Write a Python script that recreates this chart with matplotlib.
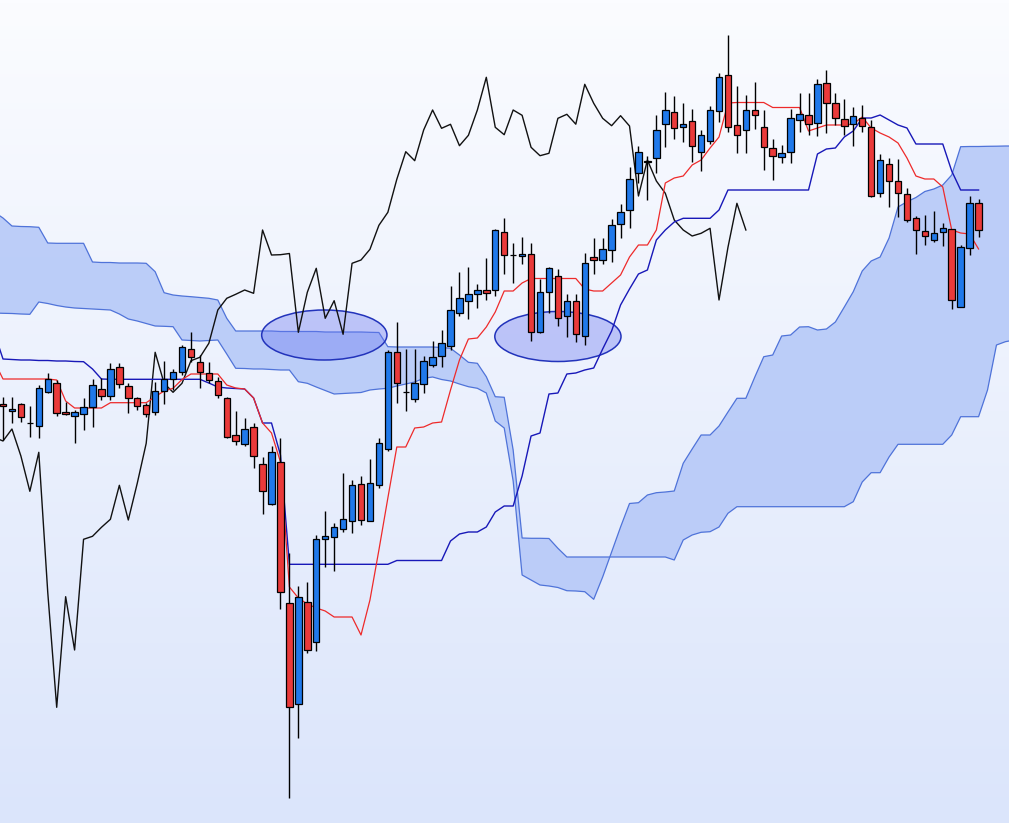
import numpy as np
import matplotlib
matplotlib.use("Agg")
import matplotlib.pyplot as plt
from matplotlib.patches import Ellipse

# ---------------------------------------------------------------
# Data (price levels; the price scale is drawn
# inverted, so a smaller number sits higher on the chart)
# ---------------------------------------------------------------
open_ = [404.3, 410.5, 404, 422.5, 425.7, 391.7, 382.7, 411.7, 416, 414.3,
         406.7, 388.7, 396, 367.3, 385.7, 398.3, 405.3, 412, 391.3, 379,
         372.3, 349.3, 362.3, 373.3, 380.7, 398.3, 435.3, 444.3, 427.3, 464.3,
         504, 462.3, 603.3, 704.3, 601.7, 642.3, 539.3, 536.7, 529.3, 521.3,
         484.3, 521.3, 485.3, 449, 352.3, 392.3, 399.3, 384, 365.3, 356,
         346, 313.3, 301, 294, 290.3, 290, 232.3, 254.7, 256, 254.3,
         332.3, 291.7, 276, 316, 301.3, 335.7, 256.7, 260, 250, 224.3,
         210, 172.7, 162.3, 158.3, 124.3, 112.3, 126.7, 121, 151.7, 140.7,
         110.7, 75, 125.3, 130.3, 110, 127.3, 148.3, 156.7, 151.7, 120,
         114.5, 123.3, 83.3, 103.3, 119.3, 124, 118.3, 126.7, 193.3, 164.3,
         181, 194.3, 218.3, 230.7, 240, 232.3, 229.3, 306.7, 248.3, 203.3]
high = [397, 397, 403, 406, 385, 373.3, 380, 401.7, 410, 398.3,
        379.3, 378.3, 362.7, 363.3, 383.3, 396.7, 403, 382, 360.7, 369,
        345, 331.7, 355, 362.3, 376.7, 396.7, 411, 418.3, 423.3, 456.7,
        446, 438.3, 553.3, 586, 582.3, 535, 511, 523.3, 472.7, 480,
        476, 459.3, 438.3, 350, 322, 349, 349, 356, 341, 330,
        286, 271.7, 266.7, 284.3, 258.3, 229.3, 218, 243.3, 236.5, 243.3,
        279, 266.7, 269.3, 294, 294, 253.3, 238.3, 237.7, 219.3, 204,
        167.3, 146, 156, 115, 91.7, 96, 102.7, 109.3, 130, 106,
        73.3, 35, 86, 95, 81.7, 110, 139.3, 145, 109.3, 93,
        92.5, 79.3, 70, 93.3, 99.3, 106.7, 105, 120, 154, 158.3,
        159.3, 188.3, 216, 215, 211, 223.3, 229.3, 245, 196, 199.3]
low = [440, 423, 421.7, 436.7, 437.7, 393.3, 416, 415, 442.7, 430,
       426.7, 400, 400, 388.3, 412.7, 410, 417.3, 415.3, 404, 390,
       375, 361.7, 388.3, 382.7, 398.3, 438.3, 445, 445.7, 468.3, 514.3,
       505, 609.3, 797.7, 738.3, 653.3, 650.7, 566.7, 570.7, 531.7, 533.3,
       525, 521.3, 488.3, 450.7, 403.3, 410.7, 401.7, 393.3, 366.7, 366.7,
       350, 315.7, 319.3, 308.3, 300, 296, 274, 283.3, 264.3, 340.7,
       333.3, 312.7, 326, 336.7, 341.7, 345, 274.3, 264.3, 261.7, 238.3,
       228.3, 183.3, 200, 172.7, 146.7, 139.3, 141.7, 161.7, 170.7, 144,
       121.7, 131.7, 152.7, 152.7, 129, 170, 180, 162.7, 163.3, 131.7,
       135, 136, 132.7, 125, 135, 145.7, 132.3, 196.7, 196.7, 206.7,
       217.3, 222.3, 254.3, 245, 241.7, 245.7, 309.3, 306.7, 255, 236.7]
close = [406.3, 409, 417.3, 422.5, 388.3, 379.3, 413.3, 414, 412.3, 406.7,
         385.3, 396, 368.7, 384, 398.3, 406, 414, 390.7, 379.3, 372.3,
         347.3, 357, 372.3, 380, 395.3, 437.3, 441, 429, 456, 491.3,
         452.3, 592.3, 707.3, 596.7, 650, 539.3, 536.3, 527.3, 519.3, 485.3,
         520, 483.3, 443.3, 352.3, 383.3, 392.3, 383.3, 360.7, 357.3, 343.3,
         310, 298.3, 294.3, 290, 293.3, 230, 255, 254.7, 253.5, 332.3,
         292.3, 268.3, 318.3, 300.7, 334.3, 263.3, 260, 249.3, 225.3, 212.3,
         179.3, 151.7, 160.7, 130, 110, 128.3, 124.3, 145.7, 135.3, 110,
         77.3, 127.3, 134.7, 110, 115.3, 147.3, 155.7, 153.3, 118.3, 114.3,
         124.2, 84.3, 103.3, 118.3, 125.7, 115.7, 126, 196, 160, 181,
         193.3, 220, 230, 236, 233.3, 228.3, 300, 247.3, 203.3, 230]

# Tenkan-sen (red) and Kijun-sen (blue), periods -1 .. 109
tenkan = [361, 379, 379, 379, 379, 379, 379, 380, 401, 408,
          408, 408, 408, 402.7, 402.7, 402.7, 402.7, 402.7, 396.7, 391,
          388.3, 379.5, 374, 374, 374, 374, 385, 388, 389, 398,
          423, 433, 462, 587, 598, 604, 608, 611, 617, 617,
          617, 635, 600, 550, 498, 447, 447, 428, 427, 423,
          422, 390, 360, 339, 338, 327, 312, 291, 291, 283,
          278.5, 278.5, 278.5, 278.5, 278.5, 278.5, 289, 291, 291, 283,
          275, 257, 245, 245, 230, 183, 178, 176, 165, 160,
          148, 137, 103, 102.5, 102.5, 102.5, 102.5, 107.5, 107.5, 107.5,
          107.5, 131, 128, 125, 125, 125, 124, 117, 128, 133,
          137, 143, 158, 176, 179, 179, 187, 230, 233, 234,
          249]
kijun = [332, 359, 359.5, 360, 360, 360.5, 360.5, 361, 361, 361.5,
         361.7, 369, 379, 379.3, 379.3, 379.3, 379.3, 379.3, 379.3, 379.3,
         379.3, 379.3, 379.3, 379.3, 383, 387, 388, 388.5, 389, 398,
         423, 423, 455, 564.3, 564.3, 564.3, 564.3, 564.3, 564.3, 564.3,
         564.3, 564.3, 564.3, 564.3, 564.3, 560.5, 560.5, 560.5, 560.5, 560.5,
         560.5, 541, 534, 532, 532, 527, 512, 506, 506, 476,
         436, 433, 394, 393, 374, 373, 370, 368, 349, 331,
         305, 289, 274, 270, 240, 230, 222, 218.3, 218.3, 218.3,
         218.3, 210, 190, 190, 190, 190, 190, 190, 190, 190,
         190, 190, 154, 149, 148, 137, 131, 118, 118, 115,
         120, 125, 128, 144, 144, 144, 144, 171, 190, 190,
         190]

# Senkou spans (cloud edges), periods -1 .. 113
span_a = [212, 218, 226, 226.5, 226.7, 227.3, 243, 243.3, 243.3, 243.3,
          243.3, 262, 262.5, 262.5, 263, 263, 263, 263.3, 271.7, 292.7,
          295, 296, 296.7, 297.5, 298.3, 300, 318.3, 331, 331, 331,
          331, 331, 331.5, 331.5, 331.5, 331.5, 331.5, 332, 332, 332,
          332, 332, 332.3, 332.5, 346.7, 347, 347, 347, 347, 347,
          347.5, 348.3, 355, 362.3, 363.3, 376.7, 396.7, 397.3, 450, 538,
          538.3, 538.3, 538.5, 548.3, 557, 557, 557, 557, 557, 557,
          557, 557, 557, 557, 557, 557, 560, 540, 535, 532.3,
          531.7, 527, 513.3, 506.7, 506.7, 506.7, 506.7, 506.7, 506.7, 506.7,
          506.7, 506.7, 506.7, 506.7, 506.7, 506.7, 501.7, 482, 472.7, 472.7,
          457, 444.3, 444.3, 444.3, 444.3, 444.3, 444.3, 435, 416.7, 416.7,
          416.7, 390, 345, 341.7, 340]
span_b = [313, 313.3, 313.5, 314, 314.3, 302, 303.5, 305.5, 307, 308,
          308.5, 309, 309.5, 310, 314, 319, 321, 323.5, 326, 326.3,
          326.7, 340, 340.5, 341, 340.5, 340, 354, 368.3, 368.5, 369,
          369, 369.5, 370, 370, 381.7, 383.3, 387, 390.5, 394, 393.5,
          393, 392.5, 390, 389, 388.3, 386, 384, 382, 378.3, 377,
          379.5, 381, 384, 386.7, 388.3, 393, 421, 428, 481, 575,
          580, 585, 586, 587.5, 590.7, 591, 591.7, 599.3, 577, 552,
          527, 503.5, 502.7, 495, 492.7, 492, 491, 463.3, 449, 435,
          435, 426, 412, 398.3, 398.3, 377, 356.7, 355, 336, 335,
          327, 326.7, 330, 329, 322, 307, 291.7, 271, 261, 257,
          238, 207, 201.7, 197.5, 191.5, 189, 185, 175, 146.7, 146.5,
          146.5, 146.3, 146.2, 146, 146]

# Highlight ellipses: (centre period, centre level, width in periods, height)
ellipse_centers = [(35.9, 335.0), (62.0, 336.5)]
ellipse_sizes = [(14.0, 50.0), (14.1, 50.0)]

# ---------------------------------------------------------------
open_ = np.array(open_); high = np.array(high)
low = np.array(low); close = np.array(close)
n = len(close)
idx = np.arange(n)
line_idx = np.arange(-1, n)
cloud_idx = np.arange(-1, len(span_a) - 1)

fig = plt.figure(figsize=(10.09, 8.23), dpi=100)
ax = fig.add_axes([0, 0, 1, 1])
ax.set_xlim(-0.335, 112.4)
ax.set_ylim(823, 0)
ax.axis("off")

# background gradient
grad = np.linspace(0, 1, 256)[:, None]
top = np.array([251, 252, 255]) / 255.0
bot = np.array([219, 229, 251]) / 255.0
img = top[None, None, :] * (1 - grad[:, :, None]) + bot[None, None, :] * grad[:, :, None]
ax.imshow(img, extent=[-0.335, 112.4, 823, 0], aspect="auto", zorder=0)

# cloud
ax.fill_between(cloud_idx, span_a, span_b, color="#b9cbf8", alpha=0.95,
                linewidth=0, zorder=1)
ax.plot(cloud_idx, span_a, color="#4f73d9", lw=0.9, zorder=2)
ax.plot(cloud_idx, span_b, color="#4f73d9", lw=0.9, zorder=2)

# ellipses
for (cx, cy), (w, h) in zip(ellipse_centers, ellipse_sizes):
    ax.add_patch(Ellipse((cx, cy), w, h, facecolor=(0.42, 0.47, 0.95, 0.38),
                         edgecolor="#2233bb", lw=1.1, zorder=3))

# chikou span (close shifted back 26 periods)
chikou_x = idx[25:] - 26
ax.plot(chikou_x, close[25:], color="#111111", lw=1.0, zorder=4)

# tenkan / kijun
ax.plot(line_idx, kijun, color="#1818b8", lw=1.0, zorder=4)
ax.plot(line_idx, tenkan, color="#ee2a2a", lw=0.9, zorder=4)

# candles
bull = close < open_
colors = np.where(bull, "#2079ea", "#ea3a3a")
ax.vlines(idx, high, low, color="black", lw=1.0, zorder=5)
bottoms = np.minimum(open_, close)
heights = np.abs(open_ - close)
ax.bar(idx, heights, bottom=bottoms, width=0.72, color=colors,
       edgecolor="black", linewidth=0.9, zorder=6)

fig.savefig("out.png", dpi=100)
